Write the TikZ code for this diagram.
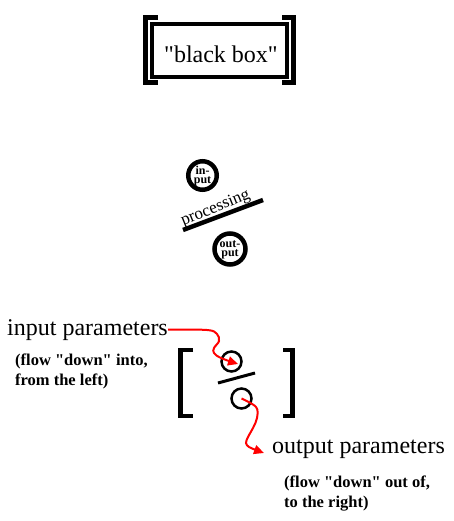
\documentclass[tikz,border=0pt]{standalone}
\usepackage{fontspec}
\setmainfont{Liberation Serif}
\usetikzlibrary{arrows.meta}

\tikzset{
  brk/.style={line width=4.5pt},
  ring/.style={circle,draw,line width=4.5pt,inner sep=0pt},
  smallring/.style={circle,draw,line width=2.5pt,inner sep=0pt,minimum size=20pt},
  ringtxt/.style={font=\bfseries\fontsize{12}{9}\selectfont,align=center,inner sep=0pt},
  bigtxt/.style={font=\fontsize{24}{28}\selectfont,inner sep=0pt},
  notetxt/.style={font=\bfseries\fontsize{16.5}{20}\selectfont,inner sep=0pt,anchor=base west},
  flow/.style={red,line width=2pt,-{Triangle[length=10pt,width=9pt]}},
}

\begin{document}
\begin{tikzpicture}[x=1pt,y=1pt,yscale=-1,xscale=1]
\useasboundingbox (0,0) rectangle (454,521);

% black box
\draw[line width=4pt] (152,24) rectangle (287,77);
\draw[brk] (158,17.5) -- (145.5,17.5) -- (145.5,82.5) -- (158,82.5);
\draw[brk] (282,17.5) -- (293.5,17.5) -- (293.5,82.5) -- (282,82.5);
\node[bigtxt,anchor=base] (bbox) at (221,63) {\textquotedbl black box\textquotedbl};

% processing
\node[ring,minimum size=28.5pt] (inring) at (202.5,175.5) {};
\node[ringtxt] at (202.5,176.5) {in-\\put};
\draw[line width=4.5pt] (183,230) -- (263,200);
\node[font=\fontsize{17}{20}\selectfont,inner sep=0pt,anchor=base,rotate=22] (proc) at (217,212) {processing};
\node[ring,minimum size=31pt] (outring) at (230,249) {};
\node[ringtxt] at (230,250) {out-\\put};

% parameters
\draw[brk] (193,350) -- (180.5,350) -- (180.5,416) -- (193,416);
\draw[brk] (283,350) -- (292.5,350) -- (292.5,416) -- (283,416);
\node[smallring] (inpar) at (231.5,361.5) {};
\draw[line width=3pt] (218,383) -- (255,373);
\node[smallring] (outpar) at (241.5,398.5) {};

\node[bigtxt,anchor=base west] (inlbl) at (7,335) {input parameters};
\node[notetxt] (innote) at (15,365) {(flow \textquotedbl down\textquotedbl{} into,};
\node[notetxt] at (15,385) {from the left)};
\node[bigtxt,anchor=base west] (outlbl) at (272,453) {output parameters};
\node[notetxt] (outnote) at (284,487) {(flow \textquotedbl down\textquotedbl{} out of,};
\node[notetxt] at (284,507) {to the right)};

\coordinate (intip) at (238,364);
\coordinate (outtip) at (264,453);
\draw[flow] plot[smooth,tension=0.6] coordinates {(inlbl.east) (207,330) (217,334) (219,341) (214,348) (214,353) (221,358) (intip)};
\draw[flow] plot[smooth,tension=0.6] coordinates {(outpar.center) (256,407) (257,418) (253,428) (248,437) (246,443) (249,447) (256,450) (outtip)};

\end{tikzpicture}
\end{document}
